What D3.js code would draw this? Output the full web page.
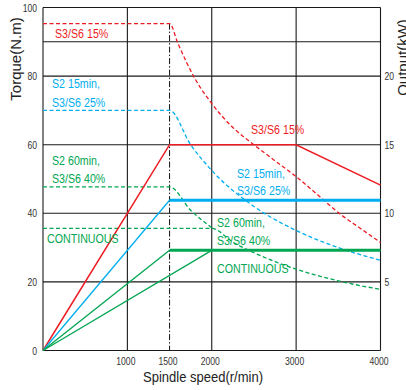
<!DOCTYPE html>
<html><head><meta charset="utf-8">
<script src="https://cdn.jsdelivr.net/npm/d3@7"></script>
<style>html,body{margin:0;padding:0;background:#fff;overflow:hidden}</style>
</head><body>
<svg id="c" width="406" height="390"></svg>
<script>
// ---- data ----
const speedTicks = [1000, 1500, 2000, 3000, 4000];
const torqueTicks = [0, 20, 40, 60, 80, 100];
const powerTicks = [5, 10, 15, 20];
const gridTorque = [0, 20, 40, 60, 80, 90, 100];
const gridSpeed = [0, 1000, 2000, 3000, 4000];
const baseSpeed = 1500;

// torque curves [rpm, N.m]
const torqueS3_15 = [[0,95.3],[1500,95.3],[1600,89.5],[1800,79.3],[2000,72],[2250,65],[2500,60],[2750,55.3],[3000,50.7],[3250,45.5],[3500,40.2],[3750,35.8],[4000,31.5]];
const torqueS2_15 = [[0,70],[1500,70],[1750,60],[2000,52.5],[2500,42],[3000,35],[3500,30],[4000,26.3]];
const torqueS2_60 = [[0,47.7],[1500,47.7],[1750,40.9],[2000,35.8]];
const torqueCont  = [[0,35.6],[2000,35.6],[2250,31.6],[2500,28.5],[2750,25.9],[3000,23.7],[3500,20.3],[4000,17.8]];
// power curves [rpm, kW]
const powerS3_15 = [[0,0],[1500,15],[3000,15],[4000,12.05]];
const powerS2_15 = [[0,0],[1500,10.95],[4000,10.95]];
const powerS2_60 = [[0,0],[1500,7.3],[4000,7.3]];
const powerCont  = [[0,0],[2000,7.3]];

const RED = "#ed1c24", CYAN = "#00aeef", GREEN = "#00a651";
const labels = [
  {t:"S3/S6 15%", c:RED, x:55, y:38.3},
  {t:"S2 15min,", c:CYAN, x:52, y:88.3},
  {t:"S3/S6 25%", c:CYAN, x:52, y:106.7},
  {t:"S2 60min,", c:GREEN, x:52, y:165},
  {t:"S3/S6 40%", c:GREEN, x:52, y:182.7},
  {t:"CONTINUOUS", c:GREEN, x:47, y:243.3},
  {t:"S3/S6 15%", c:RED, x:251, y:134},
  {t:"S2 15min,", c:CYAN, x:237, y:178.3},
  {t:"S3/S6 25%", c:CYAN, x:237, y:195},
  {t:"S2 60min,", c:GREEN, x:217, y:226.7},
  {t:"S3/S6 40%", c:GREEN, x:217, y:245},
  {t:"CONTINUOUS", c:GREEN, x:217, y:272.5}
];

// ---- scales ----
const svg = d3.select("#c");
const x = d3.scaleLinear().domain([0, 4000]).range([43, 380.5]);
const y = d3.scaleLinear().domain([0, 100]).range([350.5, 7.5]);
const yR = d3.scaleLinear().domain([0, 25]).range([350.5, 7.5]);
const FONT = "'Liberation Sans', Arial, sans-serif";
const SX = 0.82;

// grid
svg.append("g").selectAll("line").data(gridTorque).join("line")
  .attr("x1", x(0)).attr("x2", x(4000))
  .attr("y1", d => y(d)).attr("y2", d => y(d))
  .attr("stroke", "#1a1a1a").attr("stroke-width", 1.1);
svg.append("g").selectAll("line").data(gridSpeed).join("line")
  .attr("x1", d => x(d)).attr("x2", d => x(d))
  .attr("y1", y(0)).attr("y2", y(100))
  .attr("stroke", "#1a1a1a").attr("stroke-width", 1.1);

// base speed dash-dot
svg.append("line")
  .attr("x1", x(baseSpeed)).attr("x2", x(baseSpeed))
  .attr("y1", y(torqueS3_15[1][1])).attr("y2", y(0))
  .attr("stroke", "#111").attr("stroke-width", 1)
  .attr("stroke-dasharray", "6,2,1.5,2");

// axes (labels only)
function styleAxis(g){
  g.select(".domain").remove();
  g.selectAll(".tick line").remove();
  g.selectAll(".tick text").attr("font-family", FONT).attr("font-size", 10.5).attr("fill", "#333");
}
const axL = svg.append("g").attr("transform", `translate(${x(0)},0)`)
  .call(d3.axisLeft(y).tickValues(torqueTicks).tickSize(0).tickPadding(0).tickFormat(d3.format("d")));
styleAxis(axL);
axL.selectAll(".tick text").attr("x", null).attr("dy", "0.35em").attr("text-anchor", "end")
  .attr("transform", `translate(-6,0) scale(${SX},1)`);

const axR = svg.append("g").attr("transform", `translate(${x(4000)},0)`)
  .call(d3.axisRight(yR).tickValues(powerTicks).tickSize(0).tickPadding(0).tickFormat(d3.format("d")));
styleAxis(axR);
axR.selectAll(".tick text").attr("x", null).attr("dy", "0.35em").attr("text-anchor", "start")
  .attr("transform", `translate(4,0) scale(${SX},1)`);

const axB = svg.append("g").attr("transform", `translate(0,${y(0)})`)
  .call(d3.axisBottom(x).tickValues(speedTicks).tickSize(0).tickPadding(0).tickFormat(d3.format("d")));
styleAxis(axB);
axB.selectAll(".tick text").attr("y", null).attr("dy", null).attr("text-anchor", "middle")
  .attr("transform", `translate(-2,14.5) scale(${SX},1)`);

// titles
svg.append("text").attr("transform", `translate(20.5,59) rotate(-90)`)
  .attr("text-anchor", "middle").attr("font-family", FONT).attr("font-size", 15).attr("fill", "#222")
  .text("Torque(N.m)");
svg.append("text").attr("transform", `translate(408,57.5) rotate(-90)`)
  .attr("text-anchor", "middle").attr("font-family", FONT).attr("font-size", 15).attr("fill", "#222")
  .text("Output(kW)");
svg.append("text").attr("transform", "translate(203,381.5) scale(0.93,1)")
  .attr("text-anchor", "middle").attr("font-family", FONT).attr("font-size", 14).attr("fill", "#222")
  .text("Spindle speed(r/min)");

// lines
const tLine = d3.line().x(d => x(d[0])).y(d => y(d[1])).curve(d3.curveMonotoneX);
const pLine = d3.line().x(d => x(d[0])).y(d => yR(d[1]));
const plot = svg.append("g");
function dashed(data, color){
  plot.append("path").attr("d", tLine(data)).attr("fill", "none")
    .attr("stroke", color).attr("stroke-width", 1.3).attr("stroke-dasharray", "4,2.5");
}
function solid(data, color, w){
  plot.append("path").attr("d", pLine(data)).attr("fill", "none")
    .attr("stroke", color).attr("stroke-width", w || 1.4).attr("stroke-linejoin", "miter");
}
dashed(torqueS3_15, RED);
dashed(torqueS2_15, CYAN);
dashed(torqueS2_60, GREEN);
dashed(torqueCont, GREEN);
solid(powerS3_15, RED, 1.5);
solid(powerS2_15.slice(0,2), CYAN, 1.3);
solid(powerS2_15.slice(1), CYAN, 3);
solid(powerS2_60.slice(0,2), GREEN, 1.3);
solid(powerS2_60.slice(1), GREEN, 3);
solid(powerCont, GREEN, 1.3);

// labels
svg.append("g").selectAll("text").data(labels).join("text")
  .attr("transform", d => `translate(${d.x},${d.y}) scale(${SX},1)`)
  .attr("font-family", FONT).attr("font-size", 13).attr("fill", d => d.c)
  .text(d => d.t);
</script>
</body></html>
